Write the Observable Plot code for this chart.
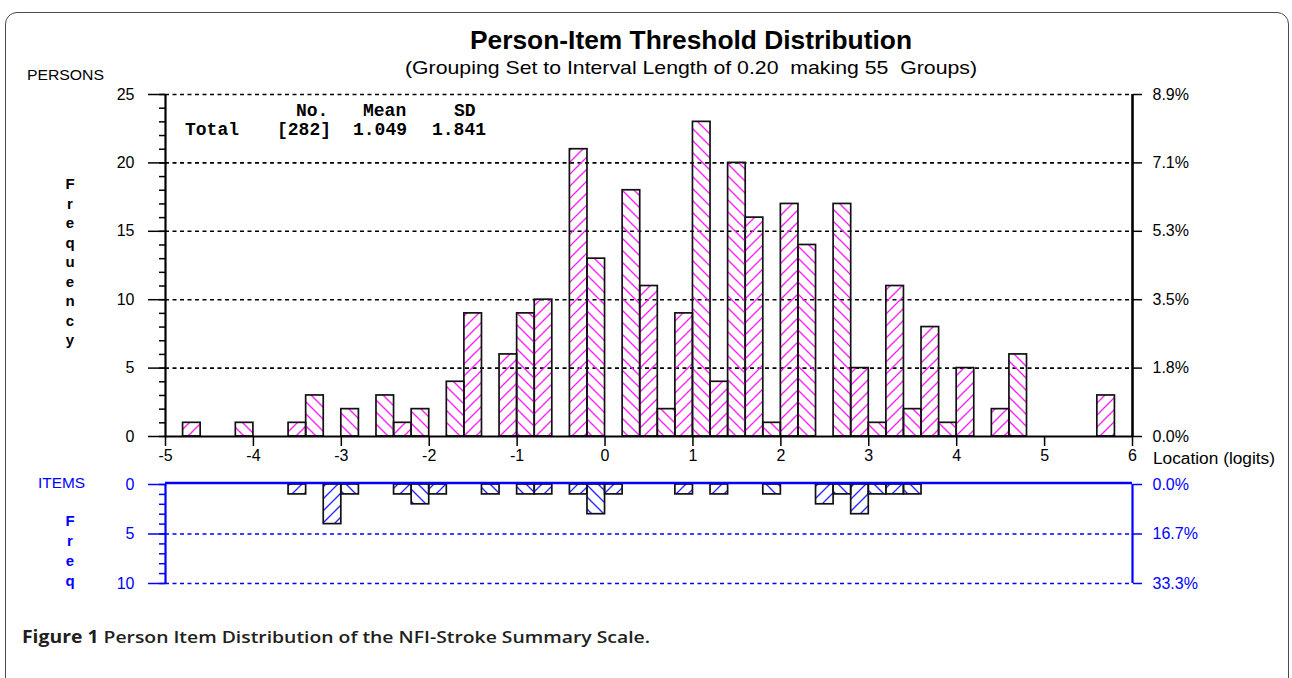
<!DOCTYPE html>
<html>
<head>
<meta charset="utf-8">
<script src="https://cdn.jsdelivr.net/npm/d3@7"></script>
<script src="https://cdn.jsdelivr.net/npm/@observablehq/plot@0.6"></script>
<style>
  html, body { margin: 0; padding: 0; background: #fff; }
  #wrap { position: relative; width: 1292px; height: 678px; overflow: hidden; background: #fff; }
  #frame { position: absolute; left: 5px; top: 12px; width: 1284px; height: 720px; border: 1.5px solid #4a4a4a; border-radius: 12px; box-sizing: border-box; }
  #overlay { position: absolute; left: 0; top: 0; }
</style>
</head>
<body>
<div id="wrap">
  <div id="frame"></div>
</div>
<script>
// ---------- data ----------
const binWidth = 0.2;
// persons: lower edge of each 0.2-logit group, and its frequency
const personStart = [-4.8,-4.2,-3.6,-3.4,-3.0,-2.6,-2.4,-2.2,-1.8,-1.6,-1.2,-1.0,-0.8,-0.4,-0.2,
                     0.2,0.4,0.6,0.8,1.0,1.2,1.4,1.6,1.8,2.0,2.2,2.6,2.8,3.0,3.2,3.4,3.6,3.8,4.0,4.4,4.6,5.6];
const personCount = [1,1,1,3,2,3,1,2,4,9,6,9,10,21,13,
                     18,11,2,9,23,4,20,16,1,17,14,17,5,1,11,2,8,1,5,2,6,3];
// item thresholds
const itemStart = [-3.6,-3.2,-3.0,-2.4,-2.2,-2.0,-1.4,-1.0,-0.8,-0.4,-0.2,0.0,
                   0.8,1.2,1.8,2.4,2.6,2.8,3.0,3.2,3.4];
const itemCount = [1,4,1,1,2,1,1,1,1,1,3,1,
                   1,1,1,2,1,3,1,1,1];
const xTicks = [-5,-4,-3,-2,-1,0,1,2,3,4,5,6];
const personTicks = [0,5,10,15,20,25];
const itemTicks = [0,5,10];
const personTotal = 282;
const itemTotal = 30;
const statsHeader = ["No.", "Mean", "SD"];
const statsRow = ["Total", "[282]", "1.049", "1.841"];

// ---------- build tables ----------
const toRows = (starts, counts) => starts.map((s, i) => ({
  x1: s, x2: +(s + binWidth).toFixed(1), n: counts[i],
  odd: Math.round((s + 5) / binWidth) % 2 === 1
}));
const persons = toRows(personStart, personCount);
const items = toRows(itemStart, itemCount);

const wrap = document.getElementById("wrap");

// hatch patterns
const defs = `<svg width="0" height="0" style="position:absolute"><defs>
<pattern id="pinkF" patternUnits="userSpaceOnUse" width="12" height="12">
  <path d="M-2,2 L2,-2 M0,12 L12,0 M10,14 L14,10" stroke="#ff22ff" stroke-width="1.4" fill="none"/></pattern>
<pattern id="pinkB" patternUnits="userSpaceOnUse" width="12" height="12">
  <path d="M-2,10 L2,14 M0,0 L12,12 M10,-2 L14,2" stroke="#ff22ff" stroke-width="1.4" fill="none"/></pattern>
<pattern id="blueF" patternUnits="userSpaceOnUse" width="12" height="12">
  <path d="M-2,2 L2,-2 M0,12 L12,0 M10,14 L14,10" stroke="#2a2aff" stroke-width="1.4" fill="none"/></pattern>
<pattern id="blueB" patternUnits="userSpaceOnUse" width="12" height="12">
  <path d="M-2,10 L2,14 M0,0 L12,12 M10,-2 L14,2" stroke="#2a2aff" stroke-width="1.4" fill="none"/></pattern>
</defs></svg>`;
wrap.insertAdjacentHTML("beforeend", defs);

const pct = total => d => (d / total * 100).toFixed(1) + "%";
const FONT = "'Liberation Sans', Arial, sans-serif";
const plain = d => String(d);

function place(svg, top) {
  svg.style.position = "absolute";
  svg.style.left = "0px";
  svg.style.top = top + "px";
  svg.style.maxWidth = "none";
  svg.setAttribute("font-family", FONT);
  svg.style.fontFamily = FONT;
  wrap.appendChild(svg);
}

// ---------- persons panel ----------
const p1 = Plot.plot({
  width: 1292, height: 390,
  marginLeft: 165, marginRight: 160, marginTop: 10, marginBottom: 38,
  x: {domain: [-5, 6]},
  y: {domain: [0, 25]},
  style: {fontSize: "16px", color: "#000", background: "transparent", overflow: "visible"},
  marks: [
    Plot.ruleY(personTicks.slice(1), {stroke: "#000", strokeWidth: 1.6, strokeDasharray: "4,3.5"}),
    Plot.rectY(persons.filter(d => d.odd), {x1: "x1", x2: "x2", y1: 0, y2: "n", fill: "url(#pinkF)", stroke: "#111", strokeWidth: 1.7}),
    Plot.rectY(persons.filter(d => !d.odd), {x1: "x1", x2: "x2", y1: 0, y2: "n", fill: "url(#pinkB)", stroke: "#111", strokeWidth: 1.7}),
    Plot.ruleY([0], {stroke: "#000", strokeWidth: 2.2}),
    Plot.ruleX([-5], {y1: 0, y2: 25, stroke: "#000", strokeWidth: 2.2}),
    Plot.ruleX([6], {y1: 0, y2: 25, stroke: "#000", strokeWidth: 2.6}),
    Plot.axisY(d3.range(0, 26), {tickSize: 6, tickFormat: () => "", strokeWidth: 1.5, label: null}),
    Plot.axisY(personTicks, {tickSize: 17, tickPadding: 14, strokeWidth: 1.5, tickFormat: plain, fontFamily: FONT, label: null}),
    Plot.axisY(personTicks, {anchor: "right", tickSize: 9, tickPadding: 11, strokeWidth: 1.5, tickFormat: pct(personTotal), fontFamily: FONT, label: null}),
    Plot.axisX(xTicks, {tickSize: 10, tickPadding: 3, strokeWidth: 1.5, tickFormat: plain, fontFamily: FONT, label: null})
  ]
});
place(p1, 84);

// ---------- items panel ----------
const p2 = Plot.plot({
  width: 1292, height: 130,
  marginLeft: 165, marginRight: 160, marginTop: 10, marginBottom: 21,
  x: {domain: [-5, 6], axis: null},
  y: {domain: [0, 10], reverse: true},
  style: {fontSize: "16px", color: "#0000ff", background: "transparent", overflow: "visible"},
  marks: [
    Plot.ruleY(itemTicks.slice(1), {stroke: "#0000ff", strokeWidth: 1.6, strokeDasharray: "4,3.5"}),
    Plot.rectY(items.filter(d => d.odd), {x1: "x1", x2: "x2", y1: 0, y2: "n", fill: "url(#blueF)", stroke: "#111", strokeWidth: 1.7}),
    Plot.rectY(items.filter(d => !d.odd), {x1: "x1", x2: "x2", y1: 0, y2: "n", fill: "url(#blueB)", stroke: "#111", strokeWidth: 1.7}),
    Plot.ruleY([0], {stroke: "#0000ff", strokeWidth: 2.4, dy: -1.5}),
    Plot.ruleX([-5], {y1: 0, y2: 10, stroke: "#0000ff", strokeWidth: 2.2}),
    Plot.ruleX([6], {y1: 0, y2: 10, stroke: "#0000ff", strokeWidth: 2.2}),
    Plot.axisY(d3.range(0, 11), {tickSize: 6, tickFormat: () => "", strokeWidth: 1.5, label: null}),
    Plot.axisY(itemTicks, {tickSize: 17, tickPadding: 14, strokeWidth: 1.5, tickFormat: plain, fontFamily: FONT, label: null}),
    Plot.axisY(itemTicks, {anchor: "right", tickSize: 9, tickPadding: 11, strokeWidth: 1.5, tickFormat: pct(itemTotal), fontFamily: FONT, label: null})
  ]
});
place(p2, 474);

// ---------- text overlay ----------
const NS = "http://www.w3.org/2000/svg";
const ov = document.createElementNS(NS, "svg");
ov.setAttribute("id", "overlay");
ov.setAttribute("width", 1292);
ov.setAttribute("height", 678);
wrap.appendChild(ov);
function txt(str, attrs) {
  const t = document.createElementNS(NS, "text");
  for (const k in attrs) t.setAttribute(k, attrs[k]);
  t.style.whiteSpace = "pre";
  t.textContent = str;
  ov.appendChild(t);
  return t;
}
txt("Person-Item Threshold Distribution", {x: 691, y: 49, "text-anchor": "middle", "font-family": FONT, "font-weight": "bold", "font-size": 25, textLength: 442, lengthAdjust: "spacingAndGlyphs"});
txt("(Grouping Set to Interval Length of 0.20  making 55  Groups)", {x: 691, y: 74, "text-anchor": "middle", "font-family": FONT, "font-size": 19, textLength: 572, lengthAdjust: "spacingAndGlyphs"});
txt("PERSONS", {x: 27, y: 80, "font-family": FONT, "font-size": 14, textLength: 77, lengthAdjust: "spacingAndGlyphs"});
"Frequency".split("").forEach((c, i) => txt(c, {x: 70, y: 189 + i * 19.5, "text-anchor": "middle", "font-family": FONT, "font-size": 15, "font-weight": "bold"}));
txt("ITEMS", {x: 38, y: 488, fill: "#0000ff", "font-family": FONT, "font-size": 14, textLength: 47, lengthAdjust: "spacingAndGlyphs"});
"Freq".split("").forEach((c, i) => txt(c, {x: 70, y: 526 + i * 20, "text-anchor": "middle", fill: "#0000ff", "font-family": FONT, "font-size": 15, "font-weight": "bold"}));
txt("Location (logits)", {x: 1153, y: 464, "font-family": FONT, "font-size": 16, textLength: 122, lengthAdjust: "spacingAndGlyphs"});
const MONO = "'Liberation Mono', 'DejaVu Sans Mono', monospace";
const hx = [296, 363, 454];
statsHeader.forEach((s, i) => txt(s, {x: hx[i], y: 116, "font-family": MONO, "font-weight": "bold", "font-size": 18}));
const rx = [185, 277, 353, 432];
statsRow.forEach((s, i) => txt(s, {x: rx[i], y: 135, "font-family": MONO, "font-weight": "bold", "font-size": 18}));
const cap = txt("", {x: 22, y: 643, fill: "#231f20", "font-family": "'Open Sans', sans-serif", "font-size": 17, textLength: 628, lengthAdjust: "spacingAndGlyphs"});
const b = document.createElementNS(NS, "tspan"); b.setAttribute("font-weight", "bold"); b.textContent = "Figure 1";
const r = document.createElementNS(NS, "tspan"); r.setAttribute("font-weight", "600"); r.textContent = " Person Item Distribution of the NFI-Stroke Summary Scale.";
cap.appendChild(b); cap.appendChild(r);
</script>
</body>
</html>
